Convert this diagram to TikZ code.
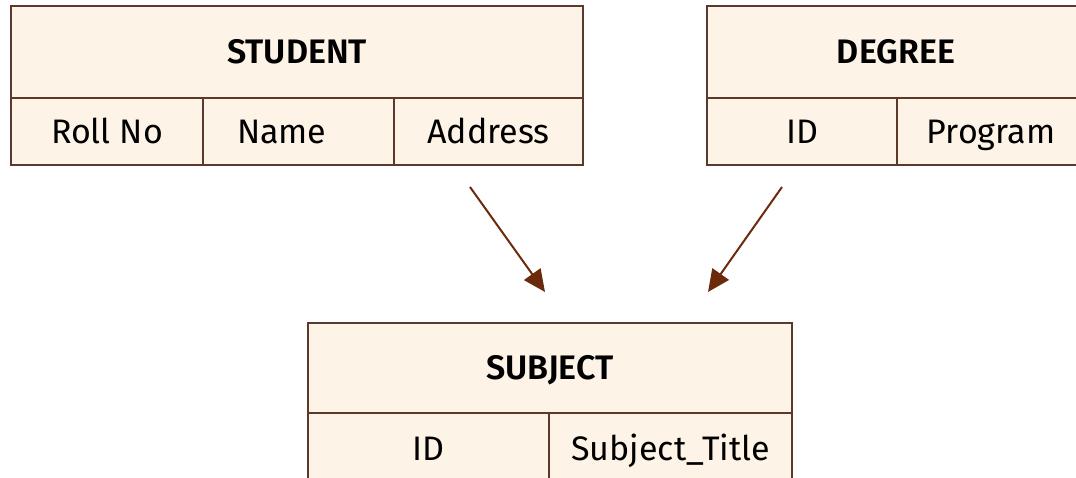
\documentclass[tikz,border=0pt]{standalone}
\usepackage{fontspec}
\setmainfont{Fira Sans}[BoldFont={Fira Sans SemiBold}]
\usepackage{xcolor}
\usetikzlibrary{arrows.meta}

\definecolor{cellfill}{HTML}{FDF3E7}
\definecolor{cellline}{HTML}{5C3A2B}
\definecolor{arrowbrown}{HTML}{6B2A0C}

\begin{document}
\begin{tikzpicture}[x=1pt, y=-1pt,
    cell/.style={draw=cellline, line width=2pt, fill=cellfill, inner sep=0pt, anchor=north west},
    head/.style={font=\fontsize{34}{38}\selectfont\bfseries, minimum height=92pt, text height=31.5pt, text depth=8pt},
    attr/.style={font=\fontsize{34}{38}\selectfont, minimum height=67pt, text height=31.5pt, text depth=8pt},
    link/.style={draw=arrowbrown, line width=2pt, -{Triangle[length=22pt, width=20pt]}}]
    \useasboundingbox (0,0) rectangle (1076,478);

    % Student table
    \node[cell, head, minimum width=572pt] (student) at (10,5) {STUDENT};
    \node[cell, attr, minimum width=192pt] (st-roll) at (10,97) {Roll No};
    \node[cell, attr, minimum width=191pt] (st-name) at (202,97) {\makebox[123pt][l]{Name}};
    \node[cell, attr, minimum width=189pt] (st-addr) at (393,97) {Address};

    % Degree table
    \node[cell, head, minimum width=378pt] (degree) at (706,5) {DEGREE};
    \node[cell, attr, minimum width=190pt] (dg-id) at (706,97) {ID};
    \node[cell, attr, minimum width=188pt] (dg-prog) at (896,97) {Program};

    % Subject table
    \node[cell, head, minimum width=484pt, minimum height=90pt] (subject) at (307,322) {SUBJECT};
    \node[cell, attr, minimum width=241pt, minimum height=72pt] (sb-id) at (307,412) {ID};
    \node[cell, attr, minimum width=243pt, minimum height=72pt] (sb-title) at (548,412) {Subject\_Title};

    % Links
    \coordinate (from-student) at (470,187);
    \coordinate (to-left) at (545,292);
    \coordinate (from-degree) at (782,187);
    \coordinate (to-right) at (708,292);
    \draw[link] (from-student) -- (to-left);
    \draw[link] (from-degree) -- (to-right);
\end{tikzpicture}
\end{document}
